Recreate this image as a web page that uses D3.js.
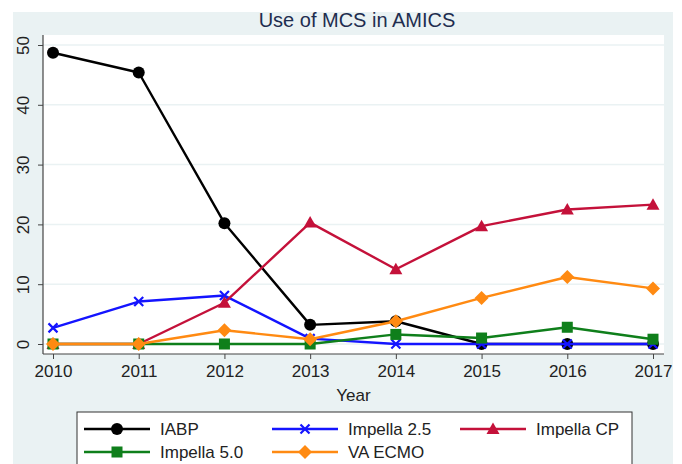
<!DOCTYPE html>
<html><head><meta charset="utf-8">
<script src="https://cdn.jsdelivr.net/npm/d3@7"></script>
<style>
html,body{margin:0;padding:0;background:#fff;}
svg{display:block;font-family:"Liberation Sans",Arial,Helvetica,sans-serif;}
</style></head>
<body>
<svg id="chart" width="682" height="464"></svg>
<script>
const years = [2010, 2011, 2012, 2013, 2014, 2015, 2016, 2017];
const iabp = [48.7, 45.4, 20.2, 3.2, 3.8, 0, 0, 0];
const impella25 = [2.7, 7.1, 8.1, 0.9, 0, 0, 0, 0];
const impellaCP = [0, 0, 6.9, 20.3, 12.5, 19.7, 22.5, 23.3];
const impella50 = [0, 0, 0, 0, 1.6, 1.0, 2.8, 0.8];
const vaEcmo = [0, 0, 2.3, 0.8, 3.8, 7.7, 11.2, 9.3];
const yTicks = [0, 10, 20, 30, 40, 50];
const seriesNames = ["IABP", "Impella 2.5", "Impella CP", "Impella 5.0", "VA ECMO"];
const seriesColors = ["#000000", "#1414ff", "#c4113a", "#0f7f1b", "#ff8a12"];
const seriesSymbols = ["circle", "x", "triangle", "square", "diamond"];
const seriesValues = [iabp, impella25, impellaCP, impella50, vaEcmo];
const title = "Use of MCS in AMICS";
const xTitle = "Year";

const svg = d3.select("#chart");
const bg = "#eaf2f3";
svg.append("rect").attr("x", 13).attr("y", 12).attr("width", 660).attr("height", 460).attr("fill", bg);

const plot = {l: 43, r: 664, t: 35, b: 354};
svg.append("rect").attr("x", plot.l).attr("y", plot.t).attr("width", plot.r - plot.l).attr("height", plot.b - plot.t).attr("fill", "#fff");

const x = d3.scaleLinear().domain([2010, 2017]).range([53, 653]);
const y = d3.scaleLinear().domain([0, 50]).range([344, 45]);

// gridlines
svg.append("g").selectAll("line").data(yTicks).join("line")
  .attr("x1", plot.l).attr("x2", plot.r)
  .attr("y1", d => y(d)).attr("y2", d => y(d))
  .attr("stroke", bg).attr("stroke-width", 1.5);

// axes
const yAxis = d3.axisLeft(y).tickValues(yTicks).tickSize(5).tickPadding(6).tickFormat(d3.format("d"));
const gy = svg.append("g").attr("transform", `translate(${plot.l},0)`).call(yAxis);
gy.select(".domain").remove();
gy.append("line").attr("x1", 0).attr("x2", 0).attr("y1", plot.t).attr("y2", plot.b).attr("stroke", "#444").attr("stroke-width", 1.2);
gy.selectAll(".tick line").attr("stroke", "#444");
gy.selectAll(".tick text").attr("font-size", 17).attr("fill", "#222")
  .attr("text-anchor", "middle").attr("x", null).attr("dy", null)
  .attr("transform", "translate(-14,0) rotate(-90)").attr("y", 0).attr("dy", "0.0em");

const xAxis = d3.axisBottom(x).tickValues(years).tickSize(5).tickPadding(6).tickFormat(d3.format("d"));
const gx = svg.append("g").attr("transform", `translate(0,${plot.b})`).call(xAxis);
gx.select(".domain").remove();
gx.append("line").attr("x1", plot.l).attr("x2", plot.r).attr("y1", 0).attr("y2", 0).attr("stroke", "#444").attr("stroke-width", 1.2);
gx.selectAll(".tick line").attr("stroke", "#444");
gx.selectAll(".tick text").attr("font-size", 17).attr("fill", "#222");

svg.append("text").attr("x", (plot.l + plot.r) / 2).attr("y", 401).attr("text-anchor", "middle")
  .attr("font-size", 17).attr("fill", "#222").text(xTitle);
svg.append("text").attr("x", 357).attr("y", 27).attr("text-anchor", "middle")
  .attr("font-size", 20).attr("fill", "#1e2d4f").text(title);

function drawMarker(g, kind, color) {
  if (kind === "x") {
    g.append("path").attr("d", "M-4.5,-4.5L4.5,4.5M-4.5,4.5L4.5,-4.5").attr("stroke", color).attr("stroke-width", 2.2).attr("fill", "none");
  } else if (kind === "circle") {
    g.append("circle").attr("r", 6).attr("fill", color);
  } else if (kind === "triangle") {
    g.append("path").attr("d", "M0,-6.5L6.5,5L-6.5,5Z").attr("fill", color);
  } else if (kind === "square") {
    g.append("rect").attr("x", -5.5).attr("y", -5.5).attr("width", 11).attr("height", 11).attr("fill", color);
  } else if (kind === "diamond") {
    g.append("path").attr("d", "M0,-7L7,0L0,7L-7,0Z").attr("fill", color);
  }
}

const line = d3.line().x((d, i) => x(years[i])).y(d => y(d));
seriesValues.forEach((vals, si) => {
  const g = svg.append("g");
  g.append("path").datum(vals).attr("d", line).attr("fill", "none")
    .attr("stroke", seriesColors[si]).attr("stroke-width", 2.4).attr("stroke-linejoin", "round");
  vals.forEach((v, i) => {
    const mg = g.append("g").attr("transform", `translate(${x(years[i])},${y(v)})`);
    drawMarker(mg, seriesSymbols[si], seriesColors[si]);
  });
});

// legend
const lg = svg.append("g");
lg.append("rect").attr("x", 77).attr("y", 412).attr("width", 555).attr("height", 70)
  .attr("fill", "#fff").attr("stroke", "#333").attr("stroke-width", 1);
const colX = [84, 272, 460];
const rowY = [429, 452];
seriesNames.forEach((name, i) => {
  const cx = colX[i % 3], cy = rowY[Math.floor(i / 3)];
  const g = lg.append("g");
  g.append("line").attr("x1", cx).attr("x2", cx + 66).attr("y1", cy).attr("y2", cy)
    .attr("stroke", seriesColors[i]).attr("stroke-width", 2.4);
  const mg = g.append("g").attr("transform", `translate(${cx + 33},${cy})`);
  drawMarker(mg, seriesSymbols[i], seriesColors[i]);
  g.append("text").attr("x", cx + 76).attr("y", cy + 6).attr("font-size", 17).attr("fill", "#222").text(name);
});
</script>
</body></html>
